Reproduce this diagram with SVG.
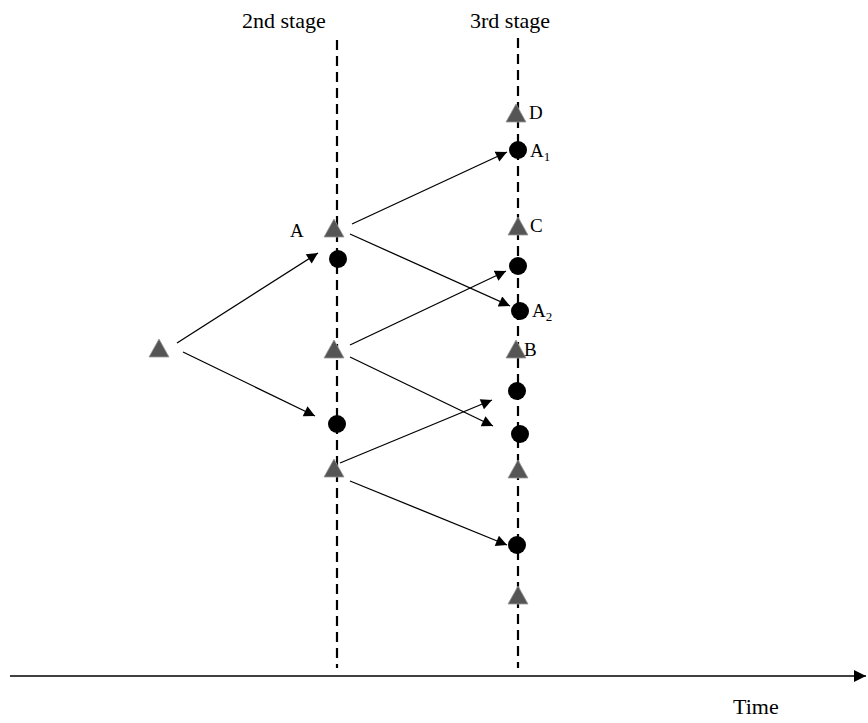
<svg xmlns="http://www.w3.org/2000/svg" width="868" height="723" viewBox="0 0 868 723">
<defs>
<style>
text{font-family:"Liberation Serif","Times New Roman",serif;font-size:19px;fill:#000}
text.big{font-size:22px}
text.time{font-size:22px}
.stage{stroke:#000;stroke-width:2.2;stroke-dasharray:10,6;fill:none}
.tri{fill:#555;stroke:#999;stroke-width:0.8}
.dot{fill:#000}
.arr{stroke:#000;stroke-width:1.3;fill:none;marker-end:url(#ah)}
</style>
<marker id="ah" viewBox="0 0 10 10" refX="10" refY="5" markerWidth="12" markerHeight="11" markerUnits="userSpaceOnUse" orient="auto"><path d="M0,0 L10,5 L0,10 z" fill="#000"/></marker>
<marker id="ah2" viewBox="0 0 10 10" refX="10" refY="5" markerWidth="13" markerHeight="12" markerUnits="userSpaceOnUse" orient="auto"><path d="M0,0 L10,5 L0,10 z" fill="#000"/></marker>
<symbol id="t" overflow="visible"><path d="M0,-9 L10,9 L-10,9 z"/></symbol>
</defs>
<rect width="868" height="723" fill="#fff"/>
<g id="axes">
<text class="big" x="242" y="28">2nd stage</text>
<text class="big" x="470" y="28">3rd stage</text>
<line class="stage" x1="337" y1="40" x2="337" y2="668"/>
<line class="stage" x1="518" y1="38" x2="518" y2="668"/>
<line x1="10" y1="676" x2="866" y2="676" stroke="#000" stroke-width="1.3" marker-end="url(#ah2)"/>
<text class="time" x="733" y="714">Time</text>
</g>
<g id="connectors">
<line class="arr" x1="177" y1="343" x2="318" y2="253"/>
<line class="arr" x1="183" y1="352" x2="315" y2="416"/>
<line class="arr" x1="352" y1="224" x2="507" y2="152"/>
<line class="arr" x1="350" y1="234" x2="510" y2="306"/>
<line class="arr" x1="350" y1="345" x2="506" y2="271"/>
<line class="arr" x1="350" y1="357" x2="493" y2="426"/>
<line class="arr" x1="340" y1="463" x2="492" y2="400"/>
<line class="arr" x1="350" y1="481" x2="507" y2="545"/>
</g>
<g id="n0"><use href="#t" class="tri" x="159" y="348"/></g>
<g id="nA"><use href="#t" class="tri" x="334" y="228"/><text x="290" y="237">A</text></g>
<g id="n2c1"><circle class="dot" cx="338" cy="259" r="9"/></g>
<g id="n2t2"><use href="#t" class="tri" x="334" y="349"/></g>
<g id="n2c2"><circle class="dot" cx="337" cy="424" r="9"/></g>
<g id="n2t3"><use href="#t" class="tri" x="334" y="468"/></g>
<g id="nD"><use href="#t" class="tri" x="516" y="113"/><text x="529" y="119">D</text></g>
<g id="nA1"><circle class="dot" cx="518" cy="150" r="9"/><text x="530" y="157">A<tspan font-size="13" dy="4">1</tspan></text></g>
<g id="nC"><use href="#t" class="tri" x="518" y="226"/><text x="530" y="232">C</text></g>
<g id="n3c2"><circle class="dot" cx="518" cy="266" r="9"/></g>
<g id="nA2"><circle class="dot" cx="520" cy="311" r="9"/><text x="532" y="317">A<tspan font-size="13" dy="4">2</tspan></text></g>
<g id="nB"><use href="#t" class="tri" x="516" y="349"/><text x="524" y="356">B</text></g>
<g id="n3c4"><circle class="dot" cx="517" cy="391" r="9"/></g>
<g id="n3c5"><circle class="dot" cx="520" cy="434" r="9"/></g>
<g id="n3t4"><use href="#t" class="tri" x="518" y="469"/></g>
<g id="n3c6"><circle class="dot" cx="517" cy="545" r="9"/></g>
<g id="n3t5"><use href="#t" class="tri" x="518" y="595"/></g>
</svg>
